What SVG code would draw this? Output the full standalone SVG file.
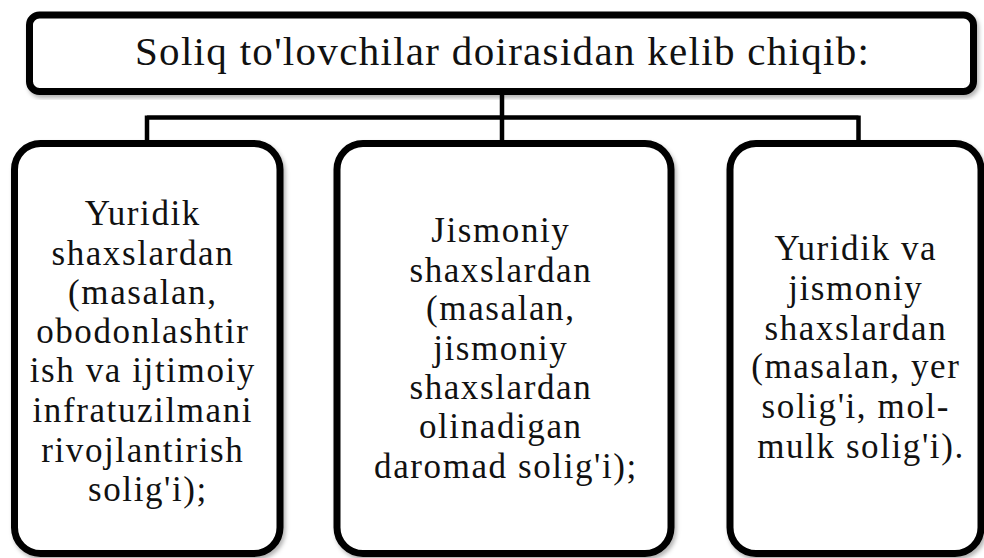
<svg xmlns="http://www.w3.org/2000/svg" width="984" height="558" viewBox="0 0 984 558">
<defs>
<filter id="sh" x="-5%" y="-5%" width="112%" height="115%">
<feDropShadow dx="2" dy="3" stdDeviation="2" flood-color="#000" flood-opacity="0.3"/>
</filter>
</defs>
<style>
.box{fill:#fff;stroke:#000;stroke-width:7;filter:url(#sh)}
.conn{fill:none;stroke:#000;stroke-width:4.5}
.t{font-family:"Liberation Serif","Times New Roman",serif;font-size:35px;letter-spacing:1.6px;fill:#111;text-anchor:middle}
.h{font-family:"Liberation Serif","Times New Roman",serif;font-size:41px;fill:#111;text-anchor:middle}
</style>
<rect width="984" height="558" fill="#fff"/>
<g id="connectors">
<path class="conn" d="M502 91 V117.5 M147 117.5 H858.5 M147 115.5 V143 M502 117.5 V143 M858.5 115.5 V143"/>
</g>
<g id="root">
<rect class="box" x="29.5" y="15" width="944" height="76.5" rx="10"/>
<text class="h" x="502" y="65" textLength="734">Soliq to'lovchilar doirasidan kelib chiqib:</text>
</g>
<g id="legal">
<rect class="box" x="14.5" y="143.5" width="265.5" height="410" rx="26"/>
<text class="t">
<tspan x="148" y="225">Yuridik</tspan>
<tspan x="148" y="265">shaxslardan</tspan>
<tspan x="148" y="304">(masalan,</tspan>
<tspan x="148" y="343">obodonlashtir</tspan>
<tspan x="148" y="382">ish va ijtimoiy</tspan>
<tspan x="148" y="422">infratuzilmani</tspan>
<tspan x="148" y="462">rivojlantirish</tspan>
<tspan x="148" y="501">solig'i);</tspan>
</text>
</g>
<g id="physical">
<rect class="box" x="337" y="143.5" width="334" height="410" rx="26"/>
<text class="t">
<tspan x="506" y="242">Jismoniy</tspan>
<tspan x="506" y="282">shaxslardan</tspan>
<tspan x="506" y="320">(masalan,</tspan>
<tspan x="506" y="360">jismoniy</tspan>
<tspan x="506" y="399">shaxslardan</tspan>
<tspan x="506" y="438">olinadigan</tspan>
<tspan x="506" y="478">daromad solig'i);</tspan>
</text>
</g>
<g id="both">
<rect class="box" x="730" y="143.5" width="251" height="410" rx="26"/>
<text class="t">
<tspan x="861" y="260">Yuridik va</tspan>
<tspan x="861" y="300">jismoniy</tspan>
<tspan x="861" y="340">shaxslardan</tspan>
<tspan x="861" y="378">(masalan, yer</tspan>
<tspan x="861" y="418">solig'i, mol-</tspan>
<tspan x="861" y="458">mulk solig'i).</tspan>
</text>
</g>
</svg>
